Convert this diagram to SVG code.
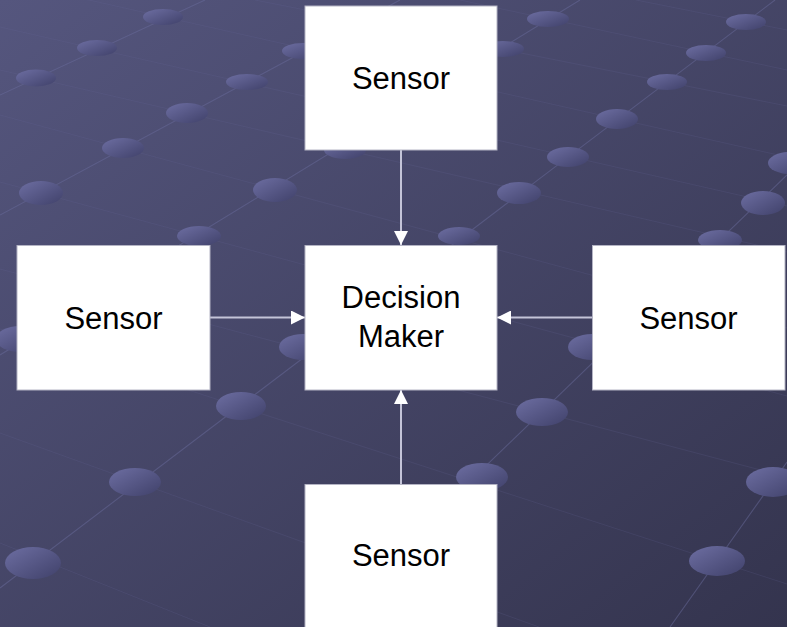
<svg xmlns="http://www.w3.org/2000/svg" width="787" height="627" viewBox="0 0 787 627">
  <defs>
    <linearGradient id="bg" x1="0" y1="0" x2="1" y2="1">
      <stop offset="0" stop-color="#55567e"/>
      <stop offset="1" stop-color="#34344e"/>
    </linearGradient>
    <linearGradient id="dot" x1="0" y1="0" x2="1" y2="1">
      <stop offset="0" stop-color="#6d6ea2"/>
      <stop offset="1" stop-color="#40416a"/>
    </linearGradient>
    <marker id="head" markerUnits="userSpaceOnUse" markerWidth="14" markerHeight="14" viewBox="0 0 14 14" refX="14" refY="7" orient="auto">
      <path d="M0,0 L14,7 L0,14 Z" fill="#ffffff"/>
    </marker>
  </defs>
  <style>
    .ga { stroke: #6a6b9c; stroke-width: 1.1; stroke-opacity: 0.5; fill: none; }
    .gb { stroke: #6a6b9c; stroke-width: 1; stroke-opacity: 0.18; fill: none; }
    .dots ellipse { fill: url(#dot); }
    .box { fill: #ffffff; stroke: #b4b4c4; stroke-width: 1; }
    .lbl { font-family: "Liberation Sans", Arial, sans-serif; font-size: 31px; fill: #000000; text-anchor: middle; }
    .conn { stroke: #c4c4d8; stroke-width: 2; fill: none; marker-end: url(#head); }
  </style>

  <!-- backdrop -->
  <rect x="0" y="0" width="787" height="627" fill="url(#bg)"/>

  <!-- perspective grid: rising lines -->
  <g id="grid">
    <line class="ga" x1="0" y1="95" x2="205" y2="0"/>
    <line class="ga" x1="0" y1="215" x2="400" y2="0"/>
    <line class="ga" x1="0" y1="355" x2="580" y2="0"/>
    <line class="ga" x1="0" y1="588" x2="775" y2="0"/>
    <line class="ga" x1="319" y1="627" x2="787" y2="175"/>
    <line class="ga" x1="670" y1="627" x2="787" y2="462"/>
    <!-- receding lines -->
    <line class="gb" x1="0" y1="27" x2="787" y2="206"/>
    <line class="gb" x1="0" y1="70" x2="787" y2="252"/>
    <line class="gb" x1="0" y1="-20" x2="787" y2="157"/>
    <line class="gb" x1="460" y1="0" x2="787" y2="70"/>
    <line class="gb" x1="255" y1="0" x2="787" y2="106"/>
    <line class="gb" x1="636" y1="0" x2="787" y2="30"/>
    <line class="gb" x1="0" y1="182" x2="787" y2="396"/>
    <line class="gb" x1="0" y1="115" x2="787" y2="328"/>
    <line class="gb" x1="0" y1="269" x2="787" y2="477"/>
    <line class="gb" x1="0" y1="329" x2="787" y2="584"/>
    <line class="gb" x1="0" y1="433" x2="539" y2="627"/>
    <line class="gb" x1="0" y1="543" x2="210" y2="627"/>
  </g>

  <!-- grid studs -->
  <g class="dots">
    <ellipse cx="163" cy="17" rx="20" ry="8"/>
    <ellipse cx="97" cy="48" rx="20" ry="8"/>
    <ellipse cx="36" cy="78" rx="20" ry="8.5"/>
    <ellipse cx="247" cy="82" rx="21" ry="8"/>
    <ellipse cx="303" cy="51" rx="21" ry="8"/>
    <ellipse cx="187" cy="113" rx="21" ry="10"/>
    <ellipse cx="123" cy="148" rx="21" ry="10"/>
    <ellipse cx="41" cy="193" rx="22" ry="12"/>
    <ellipse cx="275" cy="190" rx="22" ry="12"/>
    <ellipse cx="199" cy="236" rx="22" ry="10"/>
    <ellipse cx="345" cy="150" rx="21" ry="9"/>
    <ellipse cx="20" cy="339" rx="24" ry="13"/>
    <ellipse cx="503" cy="49" rx="21" ry="8"/>
    <ellipse cx="548" cy="19" rx="21" ry="8"/>
    <ellipse cx="746" cy="22" rx="20" ry="8"/>
    <ellipse cx="706" cy="53" rx="20" ry="8"/>
    <ellipse cx="667" cy="82" rx="20" ry="8"/>
    <ellipse cx="617" cy="119" rx="21" ry="10"/>
    <ellipse cx="568" cy="157" rx="21" ry="10"/>
    <ellipse cx="519" cy="193" rx="22" ry="11"/>
    <ellipse cx="459" cy="236" rx="21" ry="9"/>
    <ellipse cx="763" cy="203" rx="22" ry="12"/>
    <ellipse cx="720" cy="240" rx="22" ry="10"/>
    <ellipse cx="790" cy="163" rx="22" ry="11"/>
    <ellipse cx="303" cy="347" rx="24" ry="13"/>
    <ellipse cx="592" cy="347" rx="24" ry="13"/>
    <ellipse cx="241" cy="406" rx="25" ry="14"/>
    <ellipse cx="135" cy="482" rx="26" ry="14"/>
    <ellipse cx="33" cy="563" rx="28" ry="16"/>
    <ellipse cx="542" cy="412" rx="26" ry="14"/>
    <ellipse cx="482" cy="477" rx="26" ry="14"/>
    <ellipse cx="773" cy="482" rx="27" ry="15"/>
    <ellipse cx="717" cy="561" rx="28" ry="15"/>
  </g>

  <!-- connectors -->
  <g id="connectors">
    <line class="conn" x1="401" y1="150" x2="401" y2="245"/>
    <line class="conn" x1="210" y1="317.5" x2="305" y2="317.5"/>
    <line class="conn" x1="592" y1="317.5" x2="497" y2="317.5"/>
    <line class="conn" x1="401" y1="484" x2="401" y2="390"/>
  </g>

  <!-- nodes -->
  <g id="sensor-top">
    <rect class="box" x="305" y="6" width="192" height="144"/>
    <text class="lbl" x="401" y="89">Sensor</text>
  </g>
  <g id="sensor-left">
    <rect class="box" x="17" y="245.5" width="193" height="144.5"/>
    <text class="lbl" x="113.5" y="328.5">Sensor</text>
  </g>
  <g id="decision-maker">
    <rect class="box" x="305" y="245.5" width="192" height="144.5"/>
    <text class="lbl" x="401" y="308">Decision</text>
    <text class="lbl" x="401" y="347">Maker</text>
  </g>
  <g id="sensor-right">
    <rect class="box" x="592.5" y="245.5" width="192.5" height="144.5"/>
    <text class="lbl" x="688.5" y="328.5">Sensor</text>
  </g>
  <g id="sensor-bottom">
    <rect class="box" x="305" y="484.5" width="192" height="150"/>
    <text class="lbl" x="401" y="566">Sensor</text>
  </g>
</svg>
